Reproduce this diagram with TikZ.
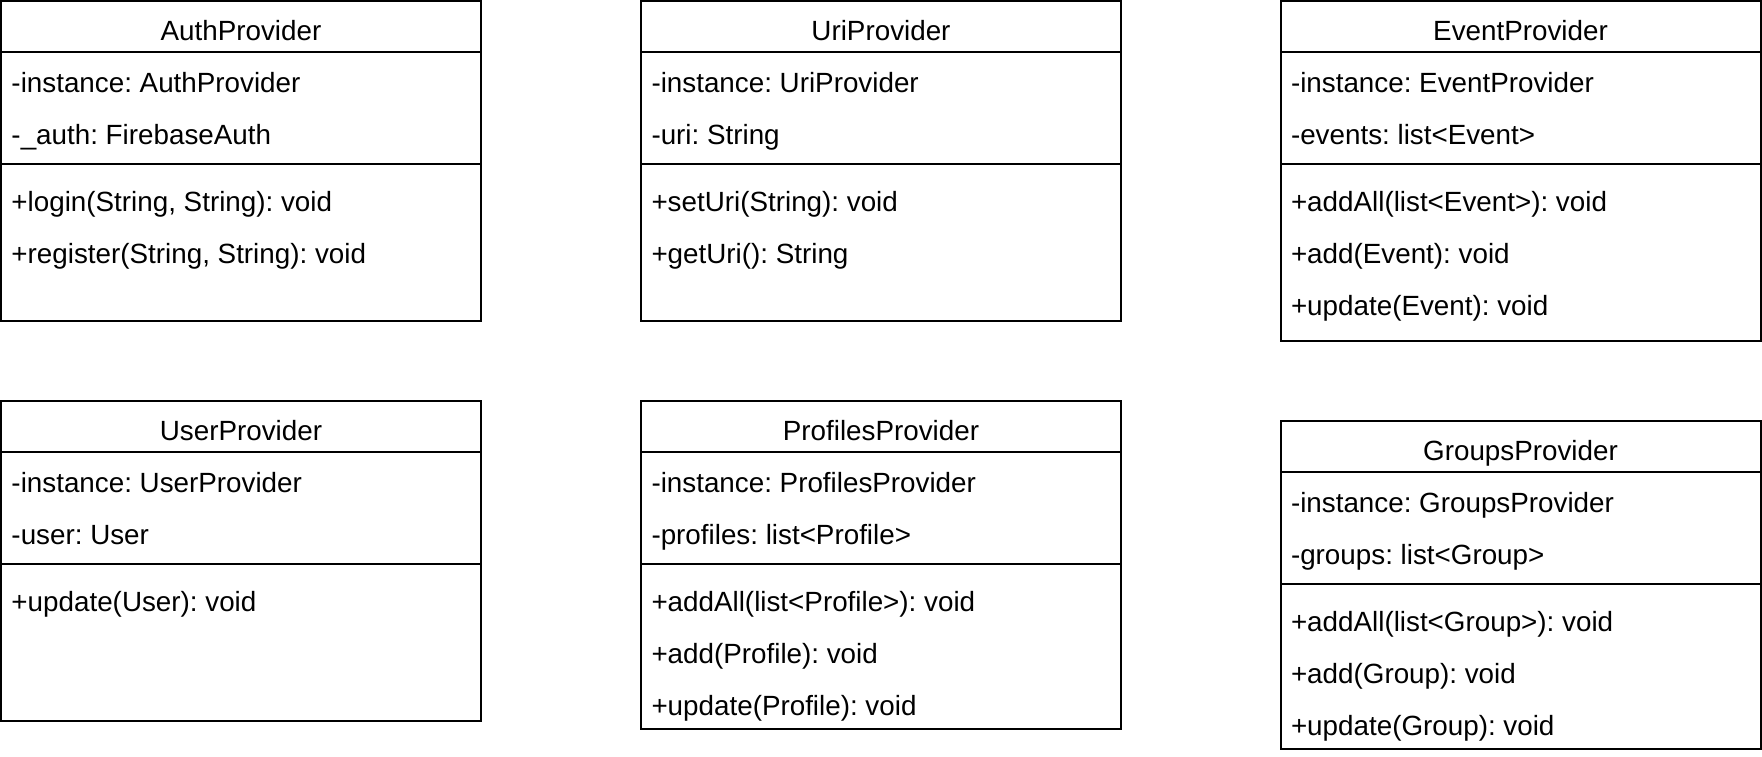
\documentclass[tikz,border=0pt]{standalone}
\usepackage{fontspec}
\setmainfont{Liberation Sans}
\frenchspacing
\newcommand{\umlcls}[7]{%
  \node[clsbox, minimum height=#4pt, anchor=north west] (#1) at (#2,#3) {};
  \draw[clsline] ([yshift=-51pt]#1.north west) -- ([yshift=-51pt]#1.north east);
  \draw[clsline] ([yshift=-163pt]#1.north west) -- ([yshift=-163pt]#1.north east);
  \node[clstxt, anchor=base] (#1-t) at ([yshift=-39.5pt]#1.north) {#5};
  \foreach \t [count=\i] in {#6} {
    \node[clstxt, anchor=base west] (#1-a\i) at ([xshift=10.5pt,yshift={-91pt-52pt*(\i-1)}]#1.north west) {\t};
  }
  \foreach \t [count=\i] in {#7} {
    \node[clstxt, anchor=base west] (#1-m\i) at ([xshift=10.5pt,yshift={-210.5pt-52pt*(\i-1)}]#1.north west) {\t};
  }
}
\tikzset{
  clsbox/.style={draw=black, line width=2pt, fill=white, minimum width=480pt, inner sep=0pt, outer sep=0pt},
  clsline/.style={draw=black, line width=2pt},
  clstxt/.style={inner sep=0pt, outer sep=0pt, text=black, font=\fontsize{27.8}{33}\selectfont\frenchspacing}
}
\begin{document}
\begin{tikzpicture}[x=1pt, y=-1pt]
\fill[white] (0,0) rectangle (1762,756);
\useasboundingbox (0,0) rectangle (1762,756);
\umlcls{auth}{1}{1}{320}{AuthProvider}{-instance: AuthProvider, -\_auth: FirebaseAuth}{{+login(String, String): void}, {+register(String, String): void}}
\umlcls{uri}{641}{1}{320}{UriProvider}{-instance: UriProvider, -uri: String}{+setUri(String): void, +getUri(): String}
\umlcls{event}{1280.5}{1}{340}{EventProvider}{-instance: EventProvider, -events: list<Event>}{+addAll(list<Event>): void, +add(Event): void, +update(Event): void}
\umlcls{user}{1}{401}{320}{UserProvider}{-instance: UserProvider, -user: User}{+update(User): void}
\umlcls{profiles}{641}{401}{328}{ProfilesProvider}{-instance: ProfilesProvider, -profiles: list<Profile>}{+addAll(list<Profile>): void, +add(Profile): void, +update(Profile): void}
\umlcls{groups}{1280.5}{421}{328}{GroupsProvider}{-instance: GroupsProvider, -groups: list<Group>}{+addAll(list<Group>): void, +add(Group): void, +update(Group): void}
\end{tikzpicture}
\end{document}
